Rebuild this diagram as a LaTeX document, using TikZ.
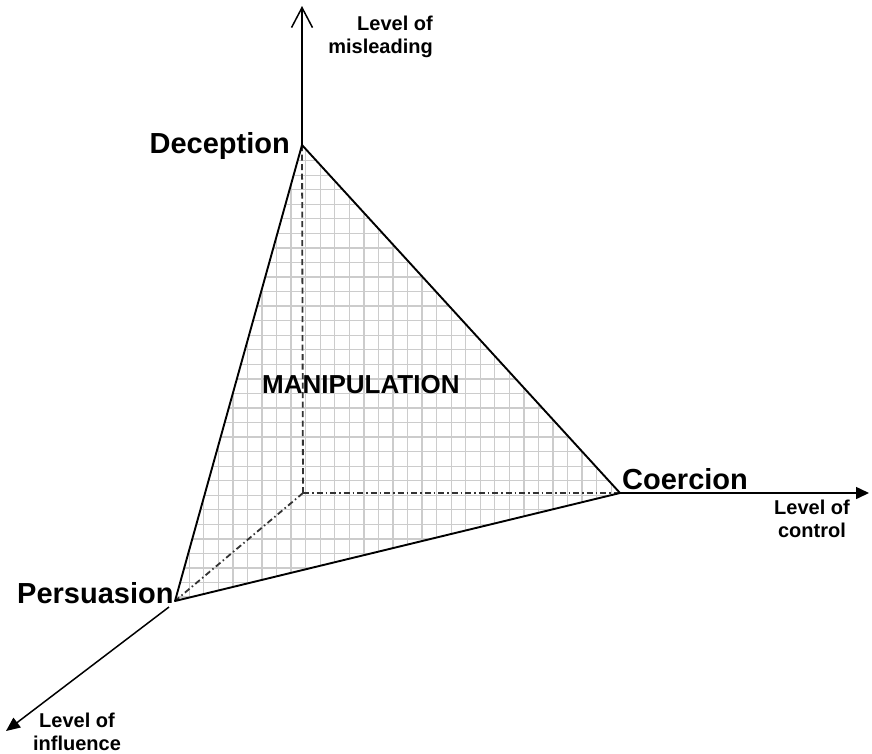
\documentclass[tikz,border=0pt]{standalone}
\usepackage{fontspec}
\setmainfont{Liberation Sans}
\usetikzlibrary{arrows.meta}
\begin{document}
\begin{tikzpicture}[x=1pt,y=-1pt,
 edge/.style={line width=1.9pt, line join=round},
 axis/.style={line width=1.5pt},
 gridline/.style={draw=black!20, line width=1.3pt},
 hidden/.style={line width=1.8pt, black!80, dash pattern=on 6pt off 3.5pt},
 hiddendd/.style={line width=1.8pt, black!80, dash pattern=on 6pt off 3pt on 1.5pt off 3pt},
 vlabel/.style={font=\fontsize{29}{34}\selectfont\bfseries, inner sep=0pt},
 alabel/.style={font=\fontsize{20}{23}\selectfont\bfseries, inner sep=0pt},
]
\useasboundingbox (0,0) rectangle (872,753);
\coordinate (O) at (303,493);
\coordinate (D) at (302,145);
\coordinate (C) at (620,493);
\coordinate (P) at (175,601);
\coordinate (top) at (302,6);
\coordinate (right) at (869,493);
\coordinate (pin) at (169,607);
\coordinate (bot) at (6,731);

\fill[white] (D) -- (C) -- (P) -- cycle;
\begin{scope}
\clip (D) -- (C) -- (P) -- cycle;
\foreach \i in {-8,...,26} \draw[gridline] (262+\i*14.55,130) -- (262+\i*14.55,620);
\foreach \j in {-17,...,18} \draw[gridline] (160,364.3+\j*14.55) -- (640,364.3+\j*14.55);
\end{scope}

\draw[hidden] (O) -- (D);
\draw[hiddendd] (O) -- (C);
\draw[hiddendd] (O) -- (P);
\draw[edge] (D) -- (C) -- (P) -- cycle;
\draw[axis, -{Straight Barb[length=20pt,width=21pt]}] (D) -- (top);
\draw[axis, -{Triangle[length=13pt,width=12pt]}] (C) -- (right);
\draw[axis, -{Triangle[length=14pt,width=12pt]}] (pin) -- (bot);

\node[vlabel, anchor=base east] (dec) at (290,153) {Deception};
\node[vlabel, anchor=base west] (coe) at (622,489) {Coercion};
\node[vlabel, anchor=base west] (per) at (17,603) {Persuasion};
\node[font=\fontsize{26}{30}\selectfont\bfseries, inner sep=0pt, anchor=base west] (man) at (262,393) {MANIPULATION};
\node[alabel, align=right, anchor=base east] (mis) at (433,53.5) {Level of\\misleading};
\node[alabel, align=center, anchor=base] (con) at (812,537) {Level of\\control};
\node[alabel, align=center, anchor=base] (inf) at (77,750) {Level of\\influence};
\end{tikzpicture}
\end{document}
